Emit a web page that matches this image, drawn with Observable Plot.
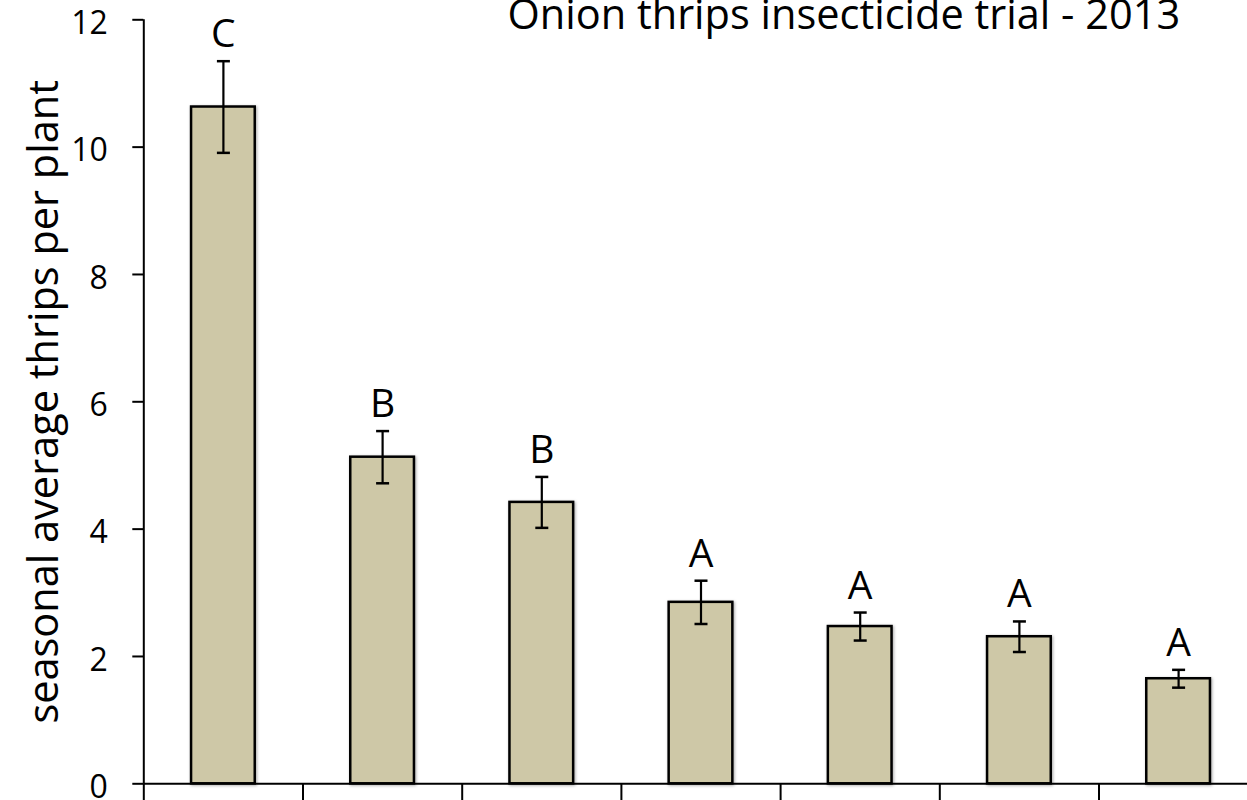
<!DOCTYPE html>
<html>
<head>
<meta charset="utf-8">
<script src="https://cdn.jsdelivr.net/npm/d3@7"></script>
<script src="https://cdn.jsdelivr.net/npm/@observablehq/plot@0.6"></script>
<style>
  html, body { margin: 0; padding: 0; background: #fff; }
  #chart { position: relative; width: 1247px; height: 800px; overflow: hidden; }
  g[aria-label="rect"] rect { filter: drop-shadow(1px 1px 1.5px rgba(0,0,0,0.35)); }
</style>
</head>
<body>
<div id="chart"></div>
<script>
const title = "Onion thrips insecticide trial - 2013";
const yLabel = "seasonal average thrips per plant";
const treatments = [1, 2, 3, 4, 5, 6, 7];
const means = [10.63, 5.13, 4.42, 2.85, 2.47, 2.31, 1.65];
const errors = [0.72, 0.41, 0.40, 0.34, 0.22, 0.24, 0.14];
const letters = ["C", "B", "B", "A", "A", "A", "A"];
const yTicks = [0, 2, 4, 6, 8, 10, 12];
const xBoundaries = [0, 1, 2, 3, 4, 5, 6, 7];

const data = treatments.map((t, i) => ({
  i, t, mean: means[i], se: errors[i], letter: letters[i]
}));

const capSymbol = {
  draw(context) {
    context.moveTo(-6.5, 0);
    context.lineTo(6.5, 0);
  }
};

const chart = Plot.plot({
  width: 1247,
  height: 800,
  marginLeft: 143.3,
  marginRight: -10.7,
  marginTop: 19.3,
  marginBottom: 16.7,
  style: { fontFamily: "'Open Sans', Lato, sans-serif", color: "#000", background: "#fff", overflow: "visible" },
  x: { type: "linear", domain: [0, 7], range: [143.3, 1257.7] },
  y: { domain: [0, 12], range: [783.3, 19.3] },
  marks: [
    Plot.rectY(data, {
      x1: d => d.i + 0.3,
      x2: d => d.i + 0.7,
      y1: 0,
      y2: "mean",
      fill: "#CEC8A7",
      stroke: "#000",
      strokeWidth: 2.5
    }),
    Plot.ruleX(data, {
      x: d => d.i + 0.5,
      y1: d => d.mean - d.se,
      y2: d => d.mean + d.se,
      stroke: "#000",
      strokeWidth: 2.2
    }),
    Plot.dot(data, {
      x: d => d.i + 0.5,
      y: d => d.mean + d.se,
      symbol: capSymbol,
      stroke: "#000",
      strokeWidth: 2.5,
      fill: "none"
    }),
    Plot.dot(data, {
      x: d => d.i + 0.5,
      y: d => d.mean - d.se,
      symbol: capSymbol,
      stroke: "#000",
      strokeWidth: 2.5,
      fill: "none"
    }),
    Plot.text(data, {
      x: d => d.i + 0.5,
      y: d => d.mean + d.se,
      text: "letter",
      lineAnchor: "bottom",
      dy: -14,
      fontSize: 39,
      fill: "#000"
    }),
    Plot.ruleX([0], { y1: 0, y2: 12, stroke: "#000", strokeWidth: 2 }),
    Plot.ruleY([0], { stroke: "#000", strokeWidth: 2 }),
    // y tick marks
    Plot.axisY({
      ticks: yTicks,
      tickSize: 11,
      tickFormat: () => "",
      strokeWidth: 2,
      stroke: "#000",
      label: null
    }),
    // y tick labels (slightly below their ticks, as in the reference)
    Plot.axisY({
      ticks: yTicks,
      tickSize: 0,
      tickPadding: 36,
      fontSize: 32,
      dy: 4,
      tickFormat: d => String(d),
      fill: "#000",
      label: null
    }),
    Plot.axisX({
      ticks: xBoundaries,
      tickSize: 22,
      tickFormat: () => "",
      strokeWidth: 2,
      stroke: "#000",
      label: null
    }),
    Plot.text([yLabel], {
      frameAnchor: "left",
      textAnchor: "middle",
      lineAnchor: "middle",
      rotate: -90,
      dx: -99,
      dy: 0,
      fontSize: 41.5,
      fill: "#000"
    }),
    Plot.text([title], {
      frameAnchor: "top",
      textAnchor: "start",
      lineAnchor: "bottom",
      dx: -193.5,
      dy: 9,
      fontSize: 41.5,
      fill: "#000"
    })
  ]
});

document.getElementById("chart").appendChild(chart);
</script>
</body>
</html>
